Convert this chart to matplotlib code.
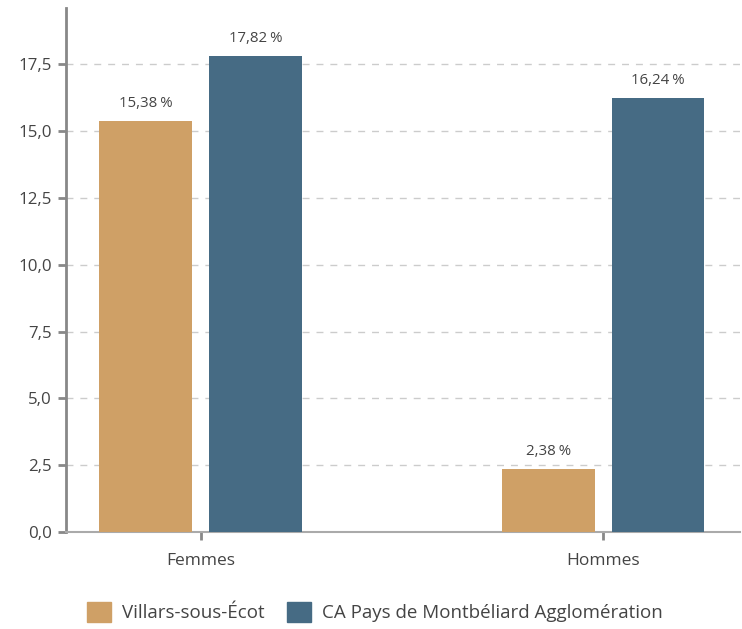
import matplotlib
matplotlib.use("Agg")
import matplotlib.pyplot as plt
from matplotlib.patches import Patch
import numpy as np

categories = ["Femmes", "Hommes"]
series_names = ["Villars-sous-Écot", "CA Pays de Montbéliard Agglomération"]
villars = [15.38, 2.38]
ca = [17.82, 16.24]
colors = ["#CFA066", "#466B84"]
yticks = [0, 2.5, 5, 7.5, 10, 12.5, 15, 17.5]

plt.rcParams['font.family'] = ['Open Sans', 'DejaVu Sans']

fig = plt.figure(figsize=(7.42, 6.29), dpi=100)
ax = fig.add_axes([0.089, 0.154, 0.908, 0.833])

x = np.arange(len(categories))
w = 0.23
off = 0.136
b1 = ax.bar(x - off, villars, w, color=colors[0], zorder=3)
b2 = ax.bar(x + off, ca, w, color=colors[1], zorder=3)

def fmt(v):
    return f"{v:.2f}".replace(".", ",") + "\u202f%"

for bars, vals in ((b1, villars), (b2, ca)):
    for b, v in zip(bars, vals):
        ax.annotate(fmt(v), (b.get_x() + b.get_width() / 2, v), xytext=(0, 7),
                    textcoords="offset points", ha="center", va="bottom",
                    fontsize=10.8, color="#444444")

ax.set_xlim(-0.334, 1.339)
ax.set_ylim(0, 19.6)
ax.set_yticks(yticks)
ax.set_yticklabels([f"{t:.1f}".replace(".", ",") for t in yticks])
ax.set_xticks(x)
ax.set_xticklabels(categories)
ax.tick_params(axis="y", length=6, width=2, color="#888888", labelsize=12.2, labelcolor="#444444", pad=4)
ax.tick_params(axis="x", length=6, width=2, color="#888888", labelsize=12.5, labelcolor="#444444", pad=9)

ax.grid(axis="y", color="#cccccc", linestyle=(0, (5, 5)), linewidth=1, zorder=0)
for s in ("top", "right"):
    ax.spines[s].set_visible(False)
ax.spines["left"].set_color("#888888")
ax.spines["left"].set_linewidth(2)
ax.spines["bottom"].set_color("#aaaaaa")
ax.spines["bottom"].set_linewidth(1.5)

handles = [Patch(color=c) for c in colors]
fig.legend(handles, series_names, loc="lower center", bbox_to_anchor=(0.505, -0.016),
           ncol=2, frameon=False, fontsize=13.5, handlelength=1.3, handleheight=1.3,
           columnspacing=1.2, handletextpad=0.55, labelcolor="#444444")

fig.savefig("out.png", dpi=100)
